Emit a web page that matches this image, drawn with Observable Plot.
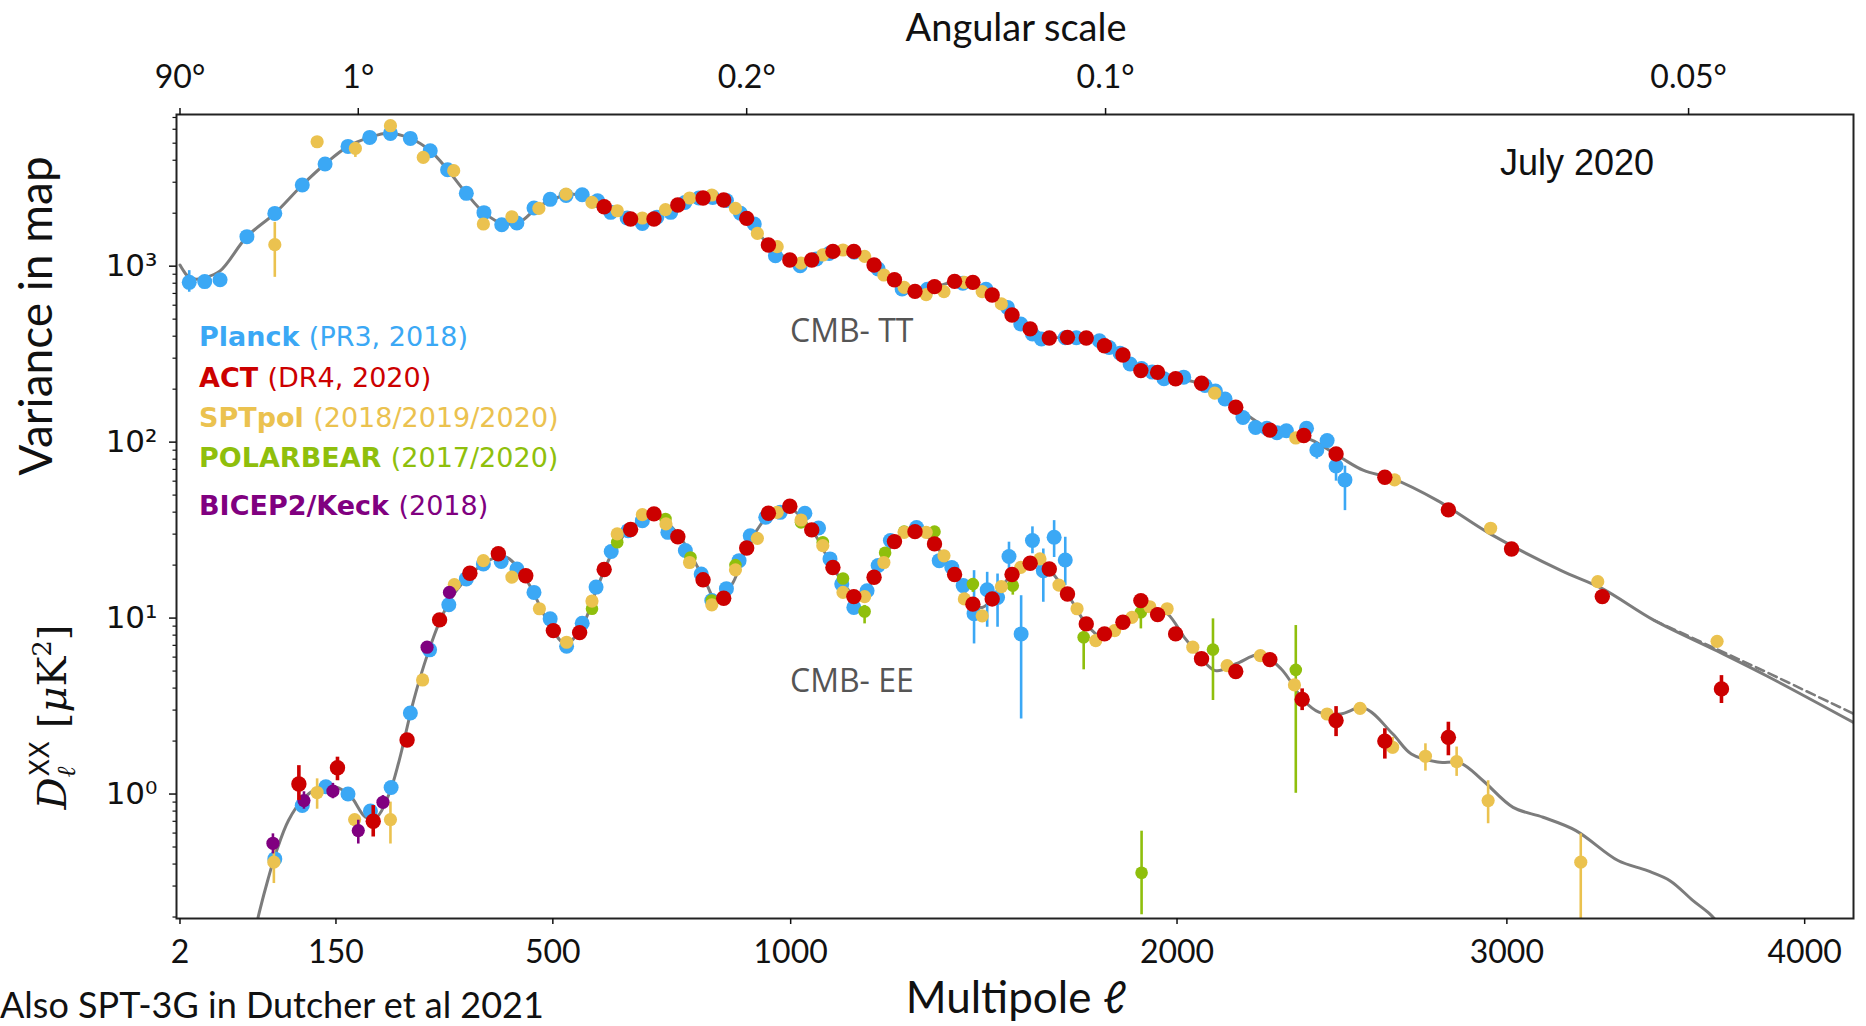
<!DOCTYPE html>
<html><head><meta charset="utf-8">
<script src="https://cdn.jsdelivr.net/npm/d3@7"></script>
<script src="https://cdn.jsdelivr.net/npm/@observablehq/plot@0.6"></script>
<style>
html,body{margin:0;padding:0;background:#fff;}
#chart{width:1866px;height:1026px;overflow:hidden;}
</style></head><body><div id="chart"></div>
<script>
// ---------- axis ticks ----------
const xTicks = [2, 150, 500, 1000, 2000, 3000, 4000];
const topTicks = [2, 180, 900, 1800, 3600];
const topTickLabels = ["90°", "1°", "0.2°", "0.1°", "0.05°"];
const yTicks = [1, 10, 100, 1000];
const yTickLabels = ["10⁰", "10¹", "10²", "10³"];
const yMinorTicks = [0.2,0.3,0.4,0.5,0.6,0.7,0.8,0.9,2,3,4,5,6,7,8,9,20,30,40,50,60,70,80,90,200,300,400,500,600,700,800,900,2000,3000,4000,5000,6000,7000];

// ---------- theory curves [ell, D_ell] ----------
const ttTheory = [[2,1016],[3,960],[5,885],[9,845],[15,860],[26,940],[49,1472],[77,1995],[108,2893],[136,3808],[166,4795],[196,5395],[222,5700],[256,5324],[287,4529],[315,3533],[346,2594],[376,2014],[410,1740],[440,1790],[470,2140],[500,2400],[540,2560],[575,2390],[600,2150],[640,1900],[680,1830],[720,1980],[760,2280],[810,2480],[850,2380],[900,1870],[950,1320],[1000,1090],[1040,1090],[1080,1180],[1120,1230],[1150,1210],[1200,1020],[1250,840],[1300,725],[1350,765],[1400,815],[1440,810],[1500,690],[1550,530],[1600,440],[1650,395],[1700,395],[1750,388],[1800,353],[1850,313],[1900,258],[1950,247],[2000,229],[2050,220],[2100,200],[2170,158],[2270,118],[2330,110],[2392,103],[2480,82],[2551,69],[2640,62],[2780,46.5],[2948,30],[3176,18.6],[3311,14.7],[3484,9.7],[3697,6.5],[3870,4.67],[4172,2.55]];
const ttTheoryAlt = [[3484,9.7],[3697,6.65],[3870,4.9],[4172,2.86]];
const eeTheory = [[55,0.15],[61,0.213],[70,0.33],[79,0.477],[92,0.707],[109,0.94],[125,1.07],[140,1.12],[167,1.0],[190,0.74],[206,0.74],[224,1.0],[239,1.55],[261,3.4],[283,6.26],[305,10.1],[329,14.3],[360,18.6],[390,21.7],[415,22.2],[452,16.3],[493,9.27],[524,7.13],[555,8.87],[588,15.6],[625,26.4],[676,36.6],[705,38.2],[750,30.1],[808,16.3],[835,12.3],[870,16],[900,25],[948,38],[990,43],[1049,31.7],[1099,19.4],[1149,13.3],[1165,12.8],[1198,17],[1248,27],[1305,31.5],[1348,26.4],[1399,17.7],[1446,12.0],[1470,11.5],[1496,12.8],[1548,17.7],[1596,20.5],[1622,21.2],[1647,19],[1696,13.7],[1747,9.27],[1785,7.9],[1825,8.5],[1873,10.1],[1923,11.4],[1972,10.6],[2020,7.8],[2045,6.8],[2110,5.03],[2170,5.5],[2241,6.2],[2302,5.15],[2370,3.4],[2415,2.92],[2480,2.85],[2551,3.09],[2640,2.2],[2698,1.69],[2780,1.52],[2852,1.50],[2924,1.19],[3020,0.84],[3117,0.738],[3224,0.62],[3363,0.419],[3461,0.367],[3537,0.322],[3615,0.248],[3671,0.209],[3720,0.17]];

// ---------- band powers [ell, D_ell, lo, hi] ----------
const planckTT = [[6,809,711,943],[15,817],[26,838],[49,1472],[77,1995],[108,2893],[136,3808],[166,4795],[196,5395],[226,5683],[256,5324],[287,4529],[315,3533],[346,2594],[376,2014],[407,1721],[434,1758],[465,2142],[495,2397],[525,2520],[556,2548],[586,2356],[612,2023],[645,1880],[676,1750],[706,1900],[735,2023],[765,2300],[795,2440],[825,2460],[855,2360],[886,2000],[917,1737],[965,1147],[1022,1006],[1060,1100],[1090,1180],[1150,1200],[1208,964],[1267,742],[1330,740],[1420,800],[1480,740],[1536,583],[1571,469],[1602,412],[1626,386],[1690,392],[1720,392],[1783,377],[1810,345],[1840,320],[1868,278],[1900,262],[1930,250],[1963,229],[2019,234],[2080,210],[2110,195],[2138,176],[2190,138],[2227,121],[2260,120],[2290,113],[2318,116],[2378,120],[2409,90.3,80,100],[2440,102],[2467,73.2,60,78],[2494,61,40.8,73]];
const actTT = [[599,2178],[652,1854],[700,1854],[750,2228],[804,2441],[849,2378],[900,1869],[949,1320],[998,1084],[1049,1084],[1099,1213],[1149,1213],[1198,1016],[1248,838],[1299,719],[1348,765],[1399,820],[1446,809],[1496,686],[1548,528],[1596,440],[1647,391],[1696,394],[1747,391],[1797,353],[1848,313],[1898,255],[1945,249],[1996,229],[2070,216],[2169,158],[2269,117],[2370,109],[2467,85.7],[2616,63.1],[2814,41.2],[3015,24.7],[3311,13.25],[3712,3.96,3.27,4.71]];
const sptTT = [[77,1325,864,1774],[126,5096],[176,4670,4150,4900],[226,6284],[276,4150],[325,3488],[375,1737],[425,1910],[474,2130],[525,2570],[575,2304],[625,2066],[676,1879],[724,2094],[775,2441],[823,2538],[875,2130],[924,1536],[969,1291],[1024,1042],[1075,1158],[1123,1236],[1175,1137],[1222,891],[1272,758],[1327,689],[1372,716],[1424,809],[1470,716],[1520,610],[2108,190],[2346,105.6],[2646,61],[2948,32.4],[3296,16.1],[3697,7.38,7.0,7.9]];

const planckEE = [[77,0.428],[108,0.86],[137,1.10],[166,1.0],[197,0.80],[227,1.09],[256,2.89],[286,6.6],[317,11.9],[346,16.7],[375,20.3],[406,21.0],[434,19.0],[465,14.0],[495,9.9],[526,6.92],[556,9.34],[583,15.0],[613,23.9],[647,31.4],[676,35.8],[729,30.7],[766,24.2],[800,17.8],[823,12.6],[855,14.7],[883,21.2],[908,29.4],[943,37.4],[976,39.9],[1033,39.4],[1065,32.5],[1092,21.7],[1120,15.6],[1149,11.5],[1181,14.3],[1208,19.9],[1238,27.6],[1303,32.7],[1360,21.2],[1392,19.4],[1421,15.3],[1449,10.6,7.13,18.6],[1483,14.5,8.87,18.2],[1510,13.1,8.87,17.8],[1540,22.4,18.6,27.0],[1572,8.13,2.67,13.4],[1602,27.6,23.2,33.0],[1631,18.6,12.3,24.7],[1660,28.8,22.1,35.8],[1690,21.4,15.3,28.8]];
const actEE = [[104,1.14,0.92,1.45],[152,1.41,1.19,1.62],[201,0.70,0.57,0.86],[251,2.03],[302,9.77],[352,17.97],[401,23.2],[450,17.4],[501,8.49],[551,8.27],[599,18.9],[652,31.9],[700,39.1],[750,29.0],[804,16.5],[849,12.96],[900,25.0],[949,39.4],[998,43.2],[1049,31.7],[1099,19.4],[1149,13.25],[1198,17.06],[1248,27.2],[1299,31.0],[1348,26.4],[1399,17.7],[1446,12.0],[1496,12.85],[1548,17.7],[1596,20.5],[1647,19.0],[1696,13.7],[1747,9.27],[1797,8.13],[1848,9.47],[1898,12.57],[1945,10.47],[1996,8.13],[2070,5.87],[2169,4.97],[2269,5.81],[2365,3.45,2.98,3.96],[2467,2.62,2.12,3.14],[2616,2.0,1.58,2.35],[2814,2.10,1.65,2.56]];
const sptEE = [[76,0.41,0.31,0.52],[126,1.02,0.82,1.22],[175,0.716],[226,0.716,0.52,0.90],[275,4.45],[326,15.5],[375,21.2],[425,17.1],[475,11.3],[526,7.29],[575,12.5],[625,30.1],[676,38.7],[725,34.3],[775,20.7],[823,11.9],[875,18.8],[924,28.4],[969,39.9],[1024,36.1],[1075,25.8],[1123,14.0],[1175,13.25],[1222,20.7],[1272,30.7],[1327,30.7],[1372,22.6],[1424,12.85],[1470,10.3],[1520,15.1],[1571,19.4],[1622,21.7],[1673,15.4],[1722,11.3],[1773,7.45],[1825,8.49],[1873,10.1],[1923,11.6],[1972,11.3],[2045,6.83],[2144,5.37],[2241,6.12],[2342,4.17],[2440,2.85],[2540,3.07],[2640,1.845,1.69,2.10],[2742,1.64,1.35,1.93],[2840,1.53,1.26,1.85],[2940,0.918,0.678,1.19],[3240,0.41,0.19,0.594]];
const polarbearEE = [[575,11.3],[625,27.0],[724,36.6],[777,22.1],[823,12.6],[875,20.0],[1024,35.0],[1075,27.0],[1123,16.8],[1175,10.9,9.27,11.8],[1225,23.5],[1272,31.0],[1348,31.0],[1446,15.6,14.0,16.7],[1550,15.3,13.5,16.5],[1740,7.78,5.08,8.87],[1898,10.8,8.68,12.0],[1900,0.357,0.206,0.615],[2103,6.62,3.4,9.9],[2346,5.08,1.01,9.07]];
const bicepEE = [[75,0.525,0.457,0.594],[110,0.918,0.82,1.03],[146,1.04,0.94,1.15],[180,0.62,0.52,0.71],[215,0.898,0.82,0.98],[282,6.83],[318,14.0]];

// ---------- experiments (legend) ----------
const experiments = ["Planck", "POLARBEAR", "SPTpol", "BICEP2/Keck", "ACT"];
const expColors = {"Planck":"#3ba8f5","ACT":"#cc0000","SPTpol":"#ebc24f","POLARBEAR":"#8fbf0c","BICEP2/Keck":"#800080"};
const expRadius = {"Planck":7.5,"ACT":7.7,"SPTpol":6.6,"POLARBEAR":6.3,"BICEP2/Keck":6.6};
const expErrWidth = {"Planck":2.6,"ACT":3.6,"SPTpol":2.6,"POLARBEAR":2.6,"BICEP2/Keck":2.6};
const legendNames = ["Planck", "ACT", "SPTpol", "POLARBEAR", "BICEP2/Keck"];
const legendNotes = ["(PR3, 2018)", "(DR4, 2020)", "(2018/2019/2020)", "(2017/2020)", "(2018)"];

// ---------- tables ----------
const toRows = (arr, exp, spec) => arr.map(([l, v, lo, hi]) => ({l, v, lo, hi, exp, spec}));
const pts = {
  "Planck": [...toRows(planckTT, "Planck", "TT"), ...toRows(planckEE, "Planck", "EE")],
  "ACT": [...toRows(actTT, "ACT", "TT"), ...toRows(actEE, "ACT", "EE")],
  "SPTpol": [...toRows(sptTT, "SPTpol", "TT"), ...toRows(sptEE, "SPTpol", "EE")],
  "POLARBEAR": toRows(polarbearEE, "POLARBEAR", "EE"),
  "BICEP2/Keck": toRows(bicepEE, "BICEP2/Keck", "EE")
};
const curve = arr => arr.map(([l, v]) => ({l, v}));

const expMarks = experiments.flatMap(e => [
  Plot.ruleX(pts[e].filter(d => d.lo != null), {x: "l", y1: "lo", y2: "hi", stroke: expColors[e], strokeWidth: expErrWidth[e], clip: true}),
  Plot.dot(pts[e], {x: "l", y: "v", r: expRadius[e], fill: expColors[e], stroke: "none", clip: true})
]);

const chart = Plot.plot({
  width: 1866, height: 1026,
  marginLeft: 176, marginRight: 13, marginTop: 114, marginBottom: 108,
  x: {type: "pow", exponent: 0.7, domain: [0.88, 4172], axis: null},
  y: {type: "log", domain: [0.1962, 7278], axis: null},
  style: {background: "#fff", color: "#111", fontFamily: "Lato, sans-serif", overflow: "visible"},
  marks: [
    Plot.line(curve(ttTheory), {x: "l", y: "v", stroke: "#7c7c7c", strokeWidth: 3, curve: "catmull-rom", clip: true}),
    Plot.line(curve(ttTheoryAlt), {x: "l", y: "v", stroke: "#7c7c7c", strokeWidth: 2.6, strokeDasharray: "9,5", curve: "catmull-rom", clip: true}),
    Plot.line(curve(eeTheory), {x: "l", y: "v", stroke: "#7c7c7c", strokeWidth: 3, curve: "catmull-rom", clip: true}),
    ...expMarks,
    Plot.frame({stroke: "#222", strokeWidth: 2}),
    Plot.axisX(xTicks, {anchor: "bottom", label: null, tickSize: 6, tickPadding: 16, strokeWidth: 1.5, tickFormat: d => String(d), fontSize: 32, fontFamily: "Lato, sans-serif"}),
    Plot.axisX(topTicks, {anchor: "top", label: null, tickSize: 7, tickPadding: 20, strokeWidth: 1.5, tickFormat: d => topTickLabels[topTicks.indexOf(d)], fontSize: 32, fontFamily: "Lato, sans-serif"}),
    Plot.axisY(yMinorTicks, {anchor: "left", label: null, tickSize: 3.5, strokeWidth: 1.2, tickFormat: () => ""}),
    Plot.axisY(yTicks, {anchor: "left", label: null, tickSize: 7, tickPadding: 12, strokeWidth: 1.5, tickFormat: d => yTickLabels[yTicks.indexOf(d)], fontSize: 31, fontFamily: "DejaVu Sans, sans-serif"})
  ]
});
document.getElementById("chart").appendChild(chart);

// ---------- annotations ----------
const svg = d3.select(chart);
const addText = (x, y, txt, o = {}) => svg.append("text").attr("x", x).attr("y", y)
  .attr("text-anchor", o.anchor || "start")
  .attr("transform", o.rotate ? `rotate(${o.rotate},${x},${y})` : null)
  .style("font-family", o.family || "Lato, sans-serif").style("font-size", (o.size || 32) + "px")
  .style("font-weight", o.weight || 400).style("fill", o.fill || "#111").text(txt);

addText(1016, 41, "Angular scale", {anchor: "middle", size: 38});
addText(1016, 1013, "Multipole ℓ", {anchor: "middle", size: 44});
addText(0, 1018, "Also SPT-3G in Dutcher et al 2021", {size: 36});
addText(52, 316, "Variance in map", {anchor: "middle", size: 46, rotate: -90});
addText(1577, 175, "July 2020", {anchor: "middle", size: 36, family: "Liberation Sans, Arial, sans-serif"});
addText(790, 342, "CMB- TT", {size: 32, family: "Open Sans, sans-serif", fill: "#555"});
addText(790, 692, "CMB- EE", {size: 32, family: "Open Sans, sans-serif", fill: "#555"});

// y label with sub/superscripts
const yl = svg.append("text").attr("x", 66).attr("y", 717).attr("text-anchor", "middle")
  .attr("transform", "rotate(-90,66,717)")
  .style("font-family", "DejaVu Serif, serif").style("font-size", "40px").style("fill", "#111");
yl.append("tspan").style("font-style", "italic").text("D");
yl.append("tspan").attr("dy", 9).style("font-size", "26px").style("font-style", "italic").text("ℓ");
yl.append("tspan").attr("dx", -10).attr("dy", -26).style("font-size", "26px").style("font-family", "DejaVu Sans, sans-serif").text("XX");
yl.append("tspan").attr("dy", 17).text(" [");
yl.append("tspan").style("font-style", "italic").text("μ");
yl.append("tspan").text("K");
yl.append("tspan").attr("dy", -15).style("font-size", "26px").text("2");
yl.append("tspan").attr("dy", 15).text("]");

// legend
const legendY = [346, 387, 427, 467, 515];
legendNames.forEach((n, i) => {
  const t = svg.append("text").attr("x", 199).attr("y", legendY[i]).attr("text-anchor", "start")
    .style("font-family", "DejaVu Sans, sans-serif").style("font-size", "27px").style("fill", expColors[n]);
  t.append("tspan").style("font-weight", "bold").text(n + " ");
  t.append("tspan").text(legendNotes[i]);
});
</script></body></html>
